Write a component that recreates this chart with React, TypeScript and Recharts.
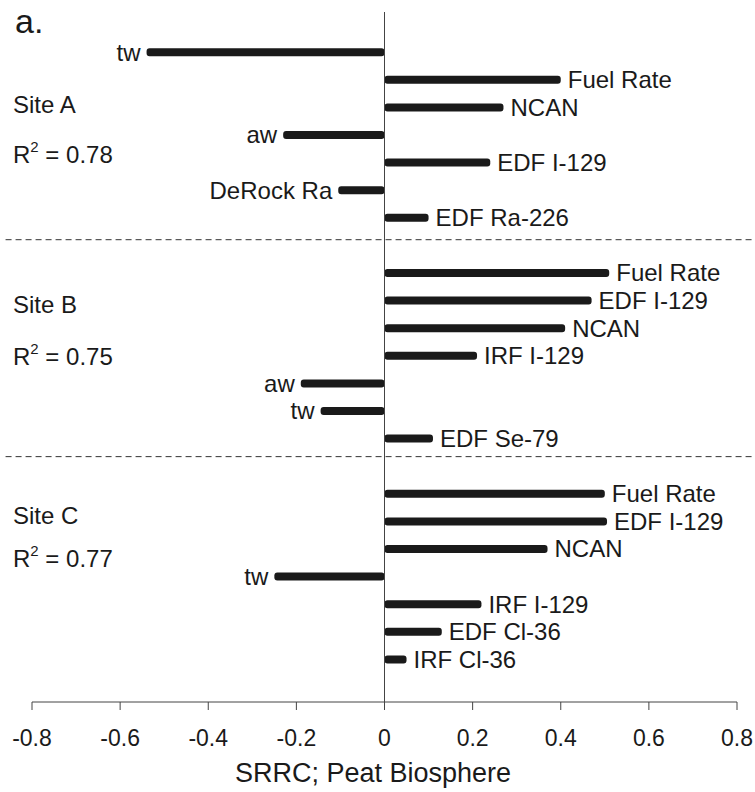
import React from "react";
import { BarChart, Bar, XAxis, YAxis, ReferenceLine, LabelList } from "recharts";

const siteAFactors = ["tw", "Fuel Rate", "NCAN", "aw", "EDF I-129", "DeRock Ra", "EDF Ra-226"];
const siteAValues = [-0.54, 0.4, 0.27, -0.23, 0.24, -0.105, 0.1];

const siteBFactors = ["Fuel Rate", "EDF I-129", "NCAN", "IRF I-129", "aw", "tw", "EDF Se-79"];
const siteBValues = [0.51, 0.47, 0.41, 0.21, -0.19, -0.145, 0.11];

const siteCFactors = ["Fuel Rate", "EDF I-129", "NCAN", "tw", "IRF I-129", "EDF Cl-36", "IRF Cl-36"];
const siteCValues = [0.5, 0.505, 0.37, -0.25, 0.22, 0.13, 0.05];

const siteNames = ["Site A", "Site B", "Site C"];
const rSquared = ["0.78", "0.75", "0.77"];
const xTicks = [-0.8, -0.6, -0.4, -0.2, 0, 0.2, 0.4, 0.6, 0.8];

// one empty row between sites
const groups = [
  { factors: siteAFactors, values: siteAValues },
  { factors: siteBFactors, values: siteBValues },
  { factors: siteCFactors, values: siteCValues },
];
const rows = groups.flatMap((g, gi) =>
  g.factors.map((name, i) => ({ name, value: g.values[i], pos: gi * 8 + i }))
);

const FONT = '"Liberation Sans", Arial, Helvetica, sans-serif';
const INK = "#1a1a1a";

const FactorLabel = (props: any) => {
  const vb = props.viewBox || props;
  const x = vb.x ?? props.x;
  const w = vb.width ?? props.width ?? 0;
  const y = vb.y ?? props.y;
  const h = vb.height ?? props.height ?? 0;
  const row = rows[props.index];
  if (!row) return null;
  const lo = Math.min(x, x + w);
  const hi = Math.max(x, x + w);
  const neg = row.value < 0;
  return (
    <text
      x={neg ? lo - 6 : hi + 7}
      y={y + h / 2}
      dy="0.35em"
      textAnchor={neg ? "end" : "start"}
      fontSize={24}
      fontFamily={FONT}
      fill={INK}
    >
      {row.name}
    </text>
  );
};

const siteTextY = [
  [113, 163],
  [313, 365],
  [524, 567],
];

export default function App() {
  return (
    <div style={{ position: "absolute", left: 0, top: 0, width: 755, height: 792, background: "#fff" }}>
      <BarChart
        width={755}
        height={792}
        data={rows}
        layout="vertical"
        margin={{ top: 12, right: 18, left: 32, bottom: 0 }}
        style={{ fontFamily: FONT }}
      >
        <XAxis
          type="number"
          domain={[-0.8, 0.8]}
          ticks={xTicks}
          interval={0}
          height={90}
          tickSize={8}
          tickMargin={20}
          stroke="#444"
          tick={{ fill: INK, fontSize: 23, fontFamily: FONT }}
          tickFormatter={(v: number) => (v === 0 ? "0" : String(v))}
        />
        <YAxis type="number" dataKey="pos" domain={[-1.45, 23.55]} hide />
        <ReferenceLine x={0} stroke="#444" strokeWidth={1} />
        <ReferenceLine
          segment={[{ x: -0.86, y: 6.8 }, { x: 0.84, y: 6.8 }]}
          ifOverflow="visible"
          stroke="#333"
          strokeDasharray="6 4"
        />
        <ReferenceLine
          segment={[{ x: -0.86, y: 14.66 }, { x: 0.84, y: 14.66 }]}
          ifOverflow="visible"
          stroke="#333"
          strokeDasharray="6 4"
        />
        <Bar dataKey="value" fill={INK} barSize={8} radius={3} isAnimationActive={false}>
          <LabelList dataKey="name" content={FactorLabel} />
        </Bar>
        <text x={15} y={33} fontSize={34} fontFamily={FONT} fill={INK}>
          a.
        </text>
        {siteNames.map((s, i) => (
          <g key={s}>
            <text x={13} y={siteTextY[i][0]} fontSize={24} fontFamily={FONT} fill={INK}>
              {s}
            </text>
            <text x={13} y={siteTextY[i][1]} fontSize={24} fontFamily={FONT} fill={INK}>
              R
              <tspan dy={-11} fontSize={15}>
                2
              </tspan>
              <tspan dy={11} fontSize={24}>
                {" = " + rSquared[i]}
              </tspan>
            </text>
          </g>
        ))}
        <text x={373} y={782} textAnchor="middle" fontSize={27} fontFamily={FONT} fill={INK}>
          SRRC; Peat Biosphere
        </text>
      </BarChart>
    </div>
  );
}
